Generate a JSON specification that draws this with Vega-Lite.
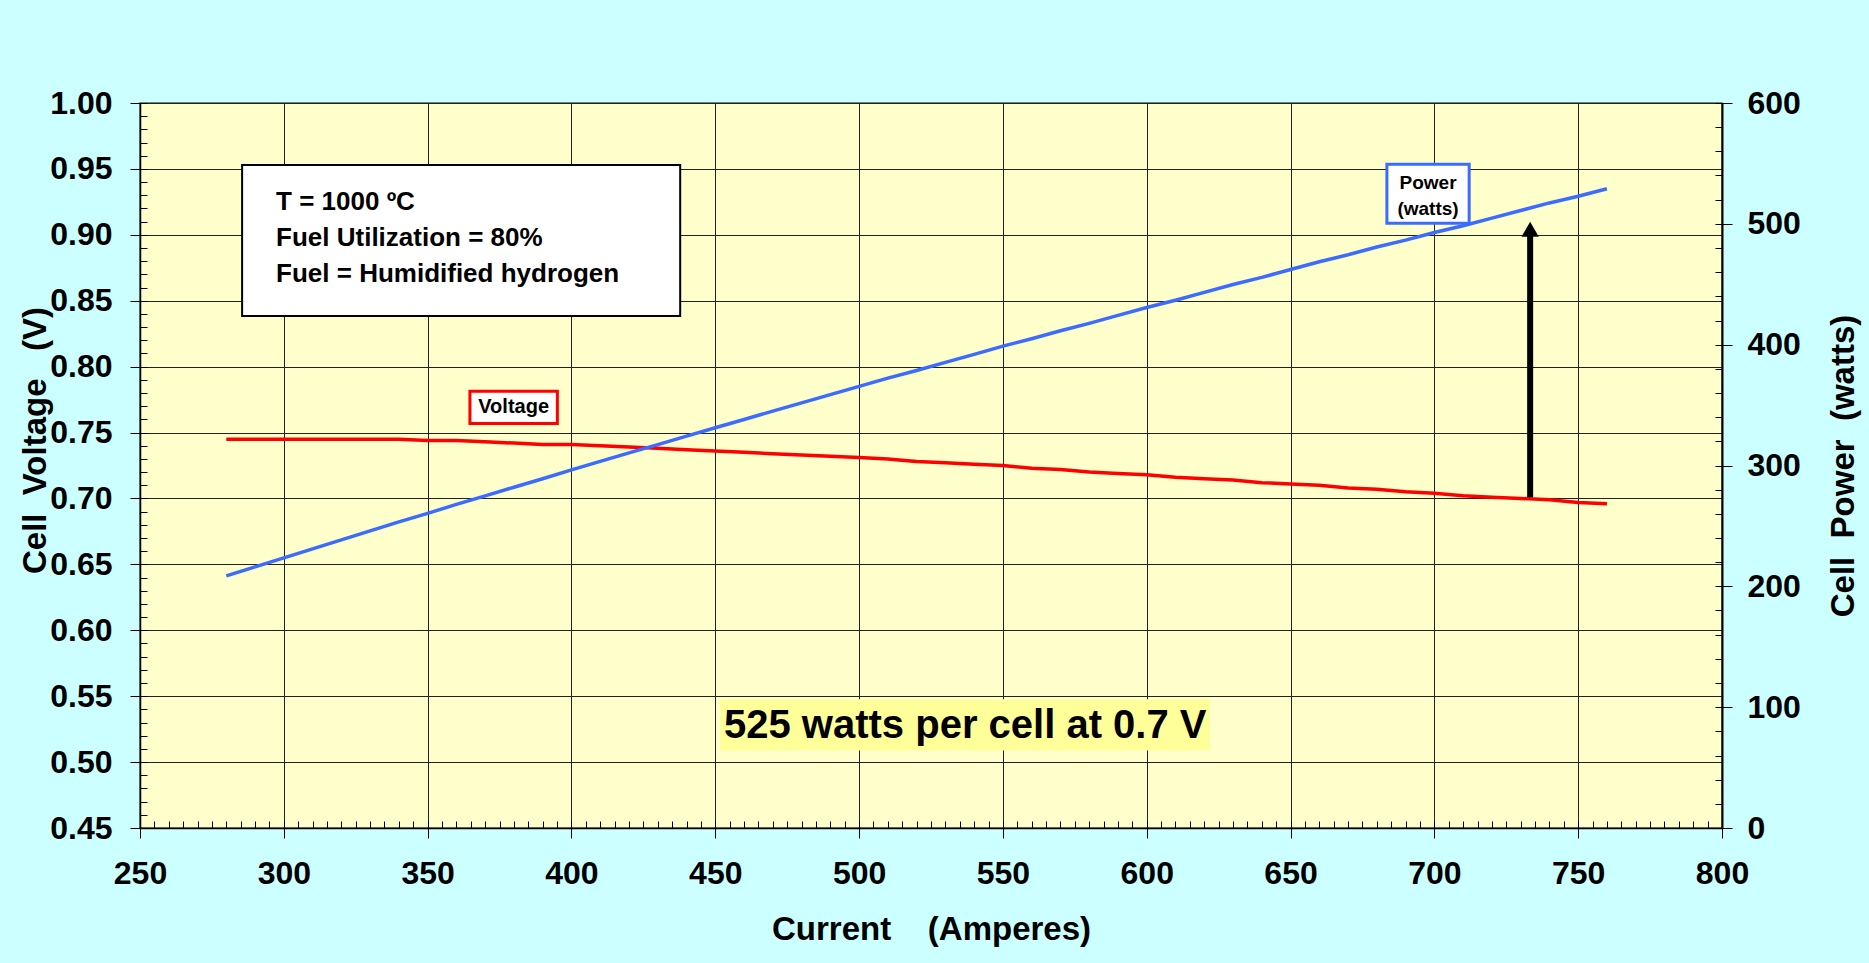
{
  "$schema": "https://vega.github.io/schema/vega-lite/v6.json",
  "width": 1582,
  "height": 725,
  "autosize": {"type": "none"},
  "padding": {"left": 140, "top": 103, "right": 147, "bottom": 135},
  "background": "#CCFFFF",
  "config": {
    "view": {"fill": "#FFFFCC", "stroke": "#555555", "strokeWidth": 1.5},
    "font": "Liberation Sans",
    "text": {"font": "Liberation Sans", "fontWeight": "bold", "color": "#000000"}
  },
  "data": {
    "values": [
      {"current": 280, "voltage": 0.745, "power": 208.6},
      {"current": 290, "voltage": 0.745, "power": 216.1},
      {"current": 300, "voltage": 0.745, "power": 223.5},
      {"current": 310, "voltage": 0.745, "power": 231.0},
      {"current": 320, "voltage": 0.745, "power": 238.4},
      {"current": 330, "voltage": 0.745, "power": 245.9},
      {"current": 340, "voltage": 0.745, "power": 253.3},
      {"current": 350, "voltage": 0.744, "power": 260.4},
      {"current": 360, "voltage": 0.744, "power": 267.8},
      {"current": 370, "voltage": 0.743, "power": 274.9},
      {"current": 380, "voltage": 0.742, "power": 282.0},
      {"current": 390, "voltage": 0.741, "power": 289.0},
      {"current": 400, "voltage": 0.741, "power": 296.4},
      {"current": 410, "voltage": 0.740, "power": 303.4},
      {"current": 420, "voltage": 0.739, "power": 310.4},
      {"current": 430, "voltage": 0.738, "power": 317.3},
      {"current": 440, "voltage": 0.737, "power": 324.3},
      {"current": 450, "voltage": 0.736, "power": 331.2},
      {"current": 460, "voltage": 0.735, "power": 338.1},
      {"current": 470, "voltage": 0.734, "power": 345.0},
      {"current": 480, "voltage": 0.733, "power": 351.8},
      {"current": 490, "voltage": 0.732, "power": 358.7},
      {"current": 500, "voltage": 0.731, "power": 365.5},
      {"current": 510, "voltage": 0.730, "power": 372.3},
      {"current": 520, "voltage": 0.728, "power": 378.6},
      {"current": 530, "voltage": 0.727, "power": 385.3},
      {"current": 540, "voltage": 0.726, "power": 392.0},
      {"current": 550, "voltage": 0.725, "power": 398.8},
      {"current": 560, "voltage": 0.723, "power": 404.9},
      {"current": 570, "voltage": 0.722, "power": 411.5},
      {"current": 580, "voltage": 0.720, "power": 417.6},
      {"current": 590, "voltage": 0.719, "power": 424.2},
      {"current": 600, "voltage": 0.718, "power": 430.8},
      {"current": 610, "voltage": 0.716, "power": 436.8},
      {"current": 620, "voltage": 0.715, "power": 443.3},
      {"current": 630, "voltage": 0.714, "power": 449.8},
      {"current": 640, "voltage": 0.712, "power": 455.7},
      {"current": 650, "voltage": 0.711, "power": 462.2},
      {"current": 660, "voltage": 0.710, "power": 468.6},
      {"current": 670, "voltage": 0.708, "power": 474.4},
      {"current": 680, "voltage": 0.707, "power": 480.8},
      {"current": 690, "voltage": 0.705, "power": 486.5},
      {"current": 700, "voltage": 0.704, "power": 492.8},
      {"current": 710, "voltage": 0.702, "power": 498.4},
      {"current": 720, "voltage": 0.701, "power": 504.7},
      {"current": 730, "voltage": 0.700, "power": 511.0},
      {"current": 740, "voltage": 0.699, "power": 517.3},
      {"current": 750, "voltage": 0.697, "power": 522.8},
      {"current": 760, "voltage": 0.696, "power": 529.0}
    ]
  },
  "resolve": {"scale": {"x": "independent", "y": "independent"}, "axis": {"x": "independent", "y": "independent"}},
  "layer": [
    {
      "mark": {"type": "point", "opacity": 0},
      "encoding": {
        "x": {"field": "current", "type": "quantitative", "scale": {"domain": [250, 800], "nice": false, "zero": false},
          "axis": {"orient": "bottom", "values": [250,255,260,265,270,275,280,285,290,295,300,305,310,315,320,325,330,335,340,345,350,355,360,365,370,375,380,385,390,395,400,405,410,415,420,425,430,435,440,445,450,455,460,465,470,475,480,485,490,495,500,505,510,515,520,525,530,535,540,545,550,555,560,565,570,575,580,585,590,595,600,605,610,615,620,625,630,635,640,645,650,655,660,665,670,675,680,685,690,695,700,705,710,715,720,725,730,735,740,745,750,755,760,765,770,775,780,785,790,795,800],
            "tickSize": -7, "tickColor": "#000000", "tickWidth": 1, "labels": false, "domain": false, "grid": false, "title": null}},
        "y": {"field": "voltage", "type": "quantitative", "scale": {"domain": [0.45, 1], "nice": false, "zero": false},
          "axis": {"orient": "left", "values": [0.45,0.46,0.47,0.48,0.49,0.5,0.51,0.52,0.53,0.54,0.55,0.56,0.57,0.58,0.59,0.6,0.61,0.62,0.63,0.64,0.65,0.66,0.67,0.68,0.69,0.7,0.71,0.72,0.73,0.74,0.75,0.76,0.77,0.78,0.79,0.8,0.81,0.82,0.83,0.84,0.85,0.86,0.87,0.88,0.89,0.9,0.91,0.92,0.93,0.94,0.95,0.96,0.97,0.98,0.99,1.0],
            "tickSize": -7, "tickColor": "#000000", "tickWidth": 1, "labels": false, "domain": false, "grid": false, "title": null}}
      }
    },
    {
      "mark": {"type": "point", "opacity": 0},
      "encoding": {
        "x": {"field": "current", "type": "quantitative", "scale": {"domain": [250, 800], "nice": false, "zero": false}, "axis": null},
        "y": {"field": "power", "type": "quantitative", "scale": {"domain": [0, 600], "nice": false},
          "axis": {"orient": "right", "values": [0,20,40,60,80,100,120,140,160,180,200,220,240,260,280,300,320,340,360,380,400,420,440,460,480,500,520,540,560,580,600],
            "tickSize": -7, "tickColor": "#000000", "tickWidth": 1, "labels": false, "domain": false, "grid": false, "title": null}}
      }
    },
    {
      "mark": {"type": "line", "color": "#FF0000", "strokeWidth": 3.5},
      "encoding": {
        "x": {"field": "current", "type": "quantitative", "scale": {"domain": [250, 800], "nice": false, "zero": false},
          "axis": {"orient": "bottom", "values": [250,300,350,400,450,500,550,600,650,700,750,800], "format": "d",
            "tickSize": 10, "tickColor": "#000000", "tickWidth": 1, "domainColor": "#000000", "domainWidth": 1.5,
            "grid": true, "gridColor": "#222222", "gridWidth": 1, "gridOpacity": 1,
            "labelFont": "Liberation Sans", "labelFontSize": 32, "labelFontWeight": "bold", "labelColor": "#000000",
            "labelPadding": 20, "labelFlush": false, "labelOverlap": false, "labelBound": false,
            "title": "Current\u00a0\u00a0\u00a0 (Amperes)", "titleFont": "Liberation Sans", "titleFontSize": 33, "titleFontWeight": "bold", "titleColor": "#000000", "titlePadding": 24}},
        "y": {"field": "voltage", "type": "quantitative", "scale": {"domain": [0.45, 1], "nice": false, "zero": false},
          "axis": {"orient": "left", "values": [0.45,0.5,0.55,0.6,0.65,0.7,0.75,0.8,0.85,0.9,0.95,1.0], "format": ".2f",
            "tickSize": 10, "tickColor": "#000000", "tickWidth": 1, "domainColor": "#000000", "domainWidth": 1.5,
            "grid": true, "gridColor": "#222222", "gridWidth": 1, "gridOpacity": 1,
            "labelFont": "Liberation Sans", "labelFontSize": 32, "labelFontWeight": "bold", "labelColor": "#000000",
            "labelPadding": 18, "labelFlush": false, "labelOverlap": false, "labelBound": false,
            "title": "Cell\u00a0 Voltage\u00a0\u00a0 (V)", "titleFont": "Liberation Sans", "titleFontSize": 33, "titleFontWeight": "bold", "titleColor": "#000000", "titlePadding": -3, "titleY": 337}}
      }
    },
    {
      "mark": {"type": "line", "color": "#3B6CFF", "strokeWidth": 3.5},
      "encoding": {
        "x": {"field": "current", "type": "quantitative", "scale": {"domain": [250, 800], "nice": false, "zero": false}, "axis": null},
        "y": {"field": "power", "type": "quantitative", "scale": {"domain": [0, 600], "nice": false},
          "axis": {"orient": "right", "values": [0,100,200,300,400,500,600], "format": "d",
            "tickSize": 10, "tickColor": "#000000", "tickWidth": 1, "domainColor": "#000000", "domainWidth": 2,
            "grid": false,
            "labelFont": "Liberation Sans", "labelFontSize": 32, "labelFontWeight": "bold", "labelColor": "#000000",
            "labelPadding": 15, "labelFlush": false, "labelOverlap": false, "labelBound": false,
            "title": "Cell\u00a0 Power\u00a0 (watts)", "titleFont": "Liberation Sans", "titleFontSize": 33, "titleFontWeight": "bold", "titleColor": "#000000", "titlePadding": 60, "titleAngle": 270}}
      }
    },
    {
      "data": {"values": [{"box": "conditions"}]},
      "mark": {"type": "rect", "fill": "#FFFFFF", "stroke": "#000000", "strokeWidth": 2},
      "encoding": {
        "x": {"datum": 285.5, "type": "quantitative", "scale": {"domain": [250, 800], "nice": false, "zero": false}, "axis": null},
        "x2": {"datum": 437.8},
        "y": {"datum": 0.953, "type": "quantitative", "scale": {"domain": [0.45, 1], "nice": false, "zero": false}, "axis": null},
        "y2": {"datum": 0.8385}
      }
    },
    {
      "data": {"values": [{"t": "T = 1000 ºC\nFuel Utilization = 80%\nFuel = Humidified hydrogen"}]},
      "mark": {"type": "text", "align": "left", "baseline": "alphabetic", "fontSize": 26, "fontWeight": "bold", "lineBreak": "\n", "lineHeight": 36},
      "encoding": {
        "text": {"field": "t"},
        "x": {"datum": 297.3, "type": "quantitative", "scale": {"domain": [250, 800], "nice": false, "zero": false}, "axis": null},
        "y": {"datum": 0.9188, "type": "quantitative", "scale": {"domain": [0.45, 1], "nice": false, "zero": false}, "axis": null}
      }
    },
    {
      "data": {"values": [{"box": "voltage"}]},
      "mark": {"type": "rect", "fill": "#FFFFFF", "stroke": "#FF0000", "strokeWidth": 3},
      "encoding": {
        "x": {"datum": 364.7, "type": "quantitative", "scale": {"domain": [250, 800], "nice": false, "zero": false}, "axis": null},
        "x2": {"datum": 395.1},
        "y": {"datum": 0.7814, "type": "quantitative", "scale": {"domain": [0.45, 1], "nice": false, "zero": false}, "axis": null},
        "y2": {"datum": 0.7569}
      }
    },
    {
      "data": {"values": [{"t": "Voltage"}]},
      "mark": {"type": "text", "align": "center", "baseline": "middle", "fontSize": 20, "fontWeight": "bold"},
      "encoding": {
        "text": {"field": "t"},
        "x": {"datum": 379.9, "type": "quantitative", "scale": {"domain": [250, 800], "nice": false, "zero": false}, "axis": null},
        "y": {"datum": 0.7693, "type": "quantitative", "scale": {"domain": [0.45, 1], "nice": false, "zero": false}, "axis": null}
      }
    },
    {
      "data": {"values": [{"box": "power"}]},
      "mark": {"type": "rect", "fill": "#FFFFFF", "stroke": "#3B6CFF", "strokeWidth": 3},
      "encoding": {
        "x": {"datum": 683.5, "type": "quantitative", "scale": {"domain": [250, 800], "nice": false, "zero": false}, "axis": null},
        "x2": {"datum": 712.1},
        "y": {"datum": 0.9535, "type": "quantitative", "scale": {"domain": [0.45, 1], "nice": false, "zero": false}, "axis": null},
        "y2": {"datum": 0.9087}
      }
    },
    {
      "data": {"values": [{"t": "Power\n(watts)"}]},
      "mark": {"type": "text", "align": "center", "baseline": "middle", "fontSize": 19, "fontWeight": "bold", "lineBreak": "\n", "lineHeight": 26},
      "encoding": {
        "text": {"field": "t"},
        "x": {"datum": 697.8, "type": "quantitative", "scale": {"domain": [250, 800], "nice": false, "zero": false}, "axis": null},
        "y": {"datum": 0.9392, "type": "quantitative", "scale": {"domain": [0.45, 1], "nice": false, "zero": false}, "axis": null}
      }
    },
    {
      "data": {"values": [{"arrow": "shaft"}]},
      "mark": {"type": "rule", "color": "#000000", "strokeWidth": 6},
      "encoding": {
        "x": {"datum": 733.3, "type": "quantitative", "scale": {"domain": [250, 800], "nice": false, "zero": false}, "axis": null},
        "y": {"datum": 0.701, "type": "quantitative", "scale": {"domain": [0.45, 1], "nice": false, "zero": false}, "axis": null},
        "y2": {"datum": 0.9}
      }
    },
    {
      "data": {"values": [{"arrow": "head"}]},
      "mark": {"type": "point", "shape": "triangle-up", "size": 300, "filled": true, "color": "#000000", "opacity": 1},
      "encoding": {
        "x": {"datum": 733.3, "type": "quantitative", "scale": {"domain": [250, 800], "nice": false, "zero": false}, "axis": null},
        "y": {"datum": 0.9042, "type": "quantitative", "scale": {"domain": [0.45, 1], "nice": false, "zero": false}, "axis": null}
      }
    },
    {
      "data": {"values": [{"box": "highlight"}]},
      "mark": {"type": "rect", "fill": "#FFFF99", "strokeWidth": 0},
      "encoding": {
        "x": {"datum": 451.7, "type": "quantitative", "scale": {"domain": [250, 800], "nice": false, "zero": false}, "axis": null},
        "x2": {"datum": 622.0},
        "y": {"datum": 0.5476, "type": "quantitative", "scale": {"domain": [0.45, 1], "nice": false, "zero": false}, "axis": null},
        "y2": {"datum": 0.5088}
      }
    },
    {
      "data": {"values": [{"t": "525 watts per cell at 0.7 V"}]},
      "mark": {"type": "text", "align": "center", "baseline": "middle", "fontSize": 40, "fontWeight": "bold"},
      "encoding": {
        "text": {"field": "t"},
        "x": {"datum": 536.9, "type": "quantitative", "scale": {"domain": [250, 800], "nice": false, "zero": false}, "axis": null},
        "y": {"datum": 0.5275, "type": "quantitative", "scale": {"domain": [0.45, 1], "nice": false, "zero": false}, "axis": null}
      }
    }
  ]
}
